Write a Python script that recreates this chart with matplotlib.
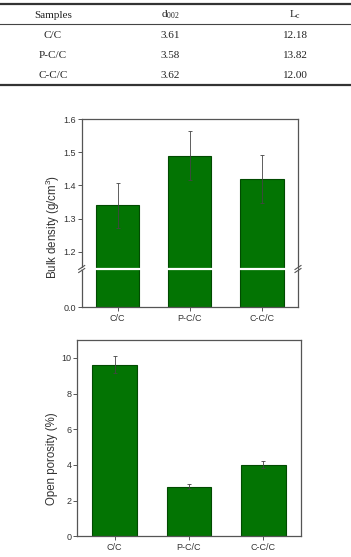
import matplotlib
matplotlib.use('Agg')
import matplotlib.pyplot as plt
from matplotlib.lines import Line2D
from matplotlib import font_manager

plt.rcParams['font.family'] = ['Liberation Sans', 'DejaVu Sans']

names = {f.name for f in font_manager.fontManager.ttflist}
narrow = 'Liberation Sans Narrow' if 'Liberation Sans Narrow' in names \
    else 'Liberation Sans'

# table data
tab_cols = ['Samples', r'd$\mathregular{_{002}}$', r'L$\mathregular{_c}$']
tab_samples = ['C/C', 'P-C/C', 'C-C/C']
tab_d002 = ['3.61', '3.58', '3.62']
tab_lc = ['12.18', '13.82', '12.00']

# bar data
samples = ['C/C', 'P-C/C', 'C-C/C']
density = [1.34, 1.49, 1.42]
density_err = [0.067, 0.075, 0.072]
porosity = [9.62, 2.77, 4.0]
porosity_err = [0.48, 0.14, 0.2]

W, H = 351, 557
fig = plt.figure(figsize=(W / 100, H / 100), dpi=100)

bar_c = '#037403'
edge_c = '#014a01'
spine_c = '#555555'
txt_c = '#333333'


def fx(px):
    return px / W


def fy(py):
    return 1 - py / H


# ---- table ----
serif = ['Liberation Serif', 'DejaVu Serif']
col_x = [53, 170, 295]
row_y = [15, 35, 55.5, 76]
for x, t in zip(col_x, tab_cols):
    fig.text(fx(x), fy(row_y[0]), t, ha='center', va='center',
             family=serif, fontsize=8, color='#222222')
for i, row in enumerate(zip(tab_samples, tab_d002, tab_lc)):
    for x, t in zip(col_x, row):
        fig.text(fx(x), fy(row_y[i + 1]), t, ha='center', va='center',
                 family=serif, fontsize=8, color='#222222')
fig.add_artist(Line2D([0, 1], [fy(3.5), fy(3.5)], color='#333333', lw=1.6))
fig.add_artist(Line2D([0, 1], [fy(23.5), fy(23.5)], color='#444444', lw=0.8))
fig.add_artist(Line2D([0, 1], [fy(85), fy(85)], color='#333333', lw=1.6))

x = [1, 2, 3]


def style(ax):
    for s in ax.spines.values():
        s.set_color(spine_c)
        s.set_linewidth(0.9)
    ax.tick_params(axis='both', direction='out', length=3, width=0.7,
                   color=spine_c, labelsize=6.5, labelcolor=txt_c, pad=1)
    for lab in ax.get_yticklabels():
        lab.set_family(narrow)
    ax.set_xlim(0.5, 3.5)


# ---- bulk density (broken axis) ----
l1, r1 = 81.7, 298
ax_up = fig.add_axes([fx(l1), fy(269), fx(r1 - l1), (269 - 119) / H])
ax_lo = fig.add_axes([fx(l1), fy(307.3), fx(r1 - l1), (307.3 - 269) / H])
ax_up.set_ylim(1.148, 1.6)
ax_up.set_yticks([1.2, 1.3, 1.4, 1.5, 1.6])
ax_up.set_xticks([])
ax_up.spines['bottom'].set_visible(False)
ax_lo.set_ylim(0, 0.2)
ax_lo.set_yticks([0])
ax_lo.set_yticklabels(['0.0'])
ax_lo.spines['top'].set_visible(False)
ax_lo.set_xticks(x)
ax_lo.set_xticklabels(samples)
for ax in (ax_up, ax_lo):
    ax.bar(x, density, width=0.6, color=bar_c, edgecolor=edge_c, lw=0.8)
    style(ax)
ax_up.errorbar(x, density, yerr=density_err, fmt='none', ecolor='#444444',
               elinewidth=0.6, capsize=1.5, capthick=0.6)
ax_lo.tick_params(axis='x', pad=2)
fig.text(fx(53), fy(227), 'Bulk density (g/cm$\\mathregular{^3}$)',
         rotation=90, ha='center', va='center', fontsize=8.3,
         color=txt_c)

# white gap across bars and break marks
fig.add_artist(Line2D([fx(l1 + 1.2), fx(r1 - 1.2)], [fy(269), fy(269)],
                      color='white', lw=1.6, zorder=5))
for xs in (l1, r1):
    for dy in (-1.5, 1.5):
        fig.add_artist(Line2D([fx(xs - 3), fx(xs + 3)],
                              [fy(269 + dy + 2), fy(269 + dy - 2)],
                              color=spine_c, lw=0.8, zorder=6))

# ---- open porosity ----
l2, r2 = 77.3, 300.7
ax2 = fig.add_axes([fx(l2), fy(536.3), fx(r2 - l2), (536.3 - 340) / H])
ax2.set_ylim(0, 11)
ax2.set_yticks([0, 2, 4, 6, 8, 10])
ax2.set_xticks(x)
ax2.set_xticklabels(samples)
ax2.bar(x, porosity, width=0.6, color=bar_c, edgecolor=edge_c, lw=0.8)
ax2.errorbar(x, porosity, yerr=porosity_err, fmt='none', ecolor='#444444',
             elinewidth=0.6, capsize=1.5, capthick=0.6)
style(ax2)
ax2.tick_params(axis='x', pad=2)
fig.text(fx(52), fy(459), 'Open porosity (%)', rotation=90, ha='center',
         va='center', fontsize=8.3, color=txt_c)

fig.savefig('out.png', dpi=100)
